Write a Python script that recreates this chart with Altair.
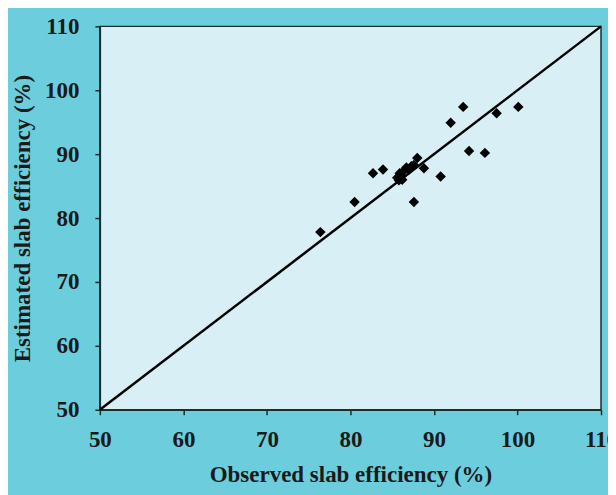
import altair as alt
import pandas as pd

observed = [76.4, 80.5, 82.7, 83.9, 85.6, 85.9, 86.1, 86.4, 86.7, 87.0, 87.3, 87.6, 85.8, 86.2,
            88.0, 88.8, 87.6, 90.8, 92.0, 93.5, 94.2, 96.1, 97.5, 100.1]
estimated = [77.8, 82.5, 87.0, 87.6, 86.3, 87.0, 86.6, 87.4, 87.9, 87.6, 88.1, 88.3, 85.9, 86.0,
             89.4, 87.8, 82.5, 86.5, 94.9, 97.4, 90.5, 90.2, 96.4, 97.4]
line_x = [50, 110]
line_y = [50, 110]

pts = pd.DataFrame({"obs": observed, "est": estimated})
ln = pd.DataFrame({"obs": line_x, "est": line_y})

xs = alt.Scale(domain=[50, 110], nice=False, zero=False)
ys = alt.Scale(domain=[50, 110], nice=False, zero=False)
xax = alt.Axis(values=[50, 60, 70, 80, 90, 100, 110], title="Observed slab efficiency (%)",
               grid=False, tickSize=5, labelPadding=14, titlePadding=12, labelFlush=False)
yax = alt.Axis(values=[50, 60, 70, 80, 90, 100, 110], title="Estimated slab efficiency (%)",
               grid=False, tickSize=5, labelPadding=16, titlePadding=10, labelFlush=False)

line = alt.Chart(ln).mark_line(color="black", strokeWidth=2.5).encode(
    x=alt.X("obs:Q", scale=xs, axis=xax),
    y=alt.Y("est:Q", scale=ys, axis=yax),
)
points = alt.Chart(pts).mark_point(shape="diamond", filled=True, color="black", size=110, opacity=1).encode(
    x=alt.X("obs:Q", scale=xs),
    y=alt.Y("est:Q", scale=ys),
)

chart = (line + points).properties(
    width=502, height=384,
    autosize=alt.AutoSizeParams(type="none"),
    padding={"left": 92, "top": 18, "right": 7, "bottom": 85},
    background="#6ccddc",
).configure_view(
    fill="#d8f0f5", stroke="#1a2e2e", strokeWidth=1.5
).configure_axis(
    labelFont="Liberation Serif", titleFont="Liberation Serif",
    labelFontSize=23, titleFontSize=23, labelFontWeight="bold", titleFontWeight="bold",
    labelColor="#1a1a1a", titleColor="#1a1a1a", domainColor="#1a2e2e", tickColor="#1a2e2e",
    domainWidth=1.5, tickWidth=1.5,
)

chart.save("out.html", embed_options={"renderer": "svg", "actions": False})
